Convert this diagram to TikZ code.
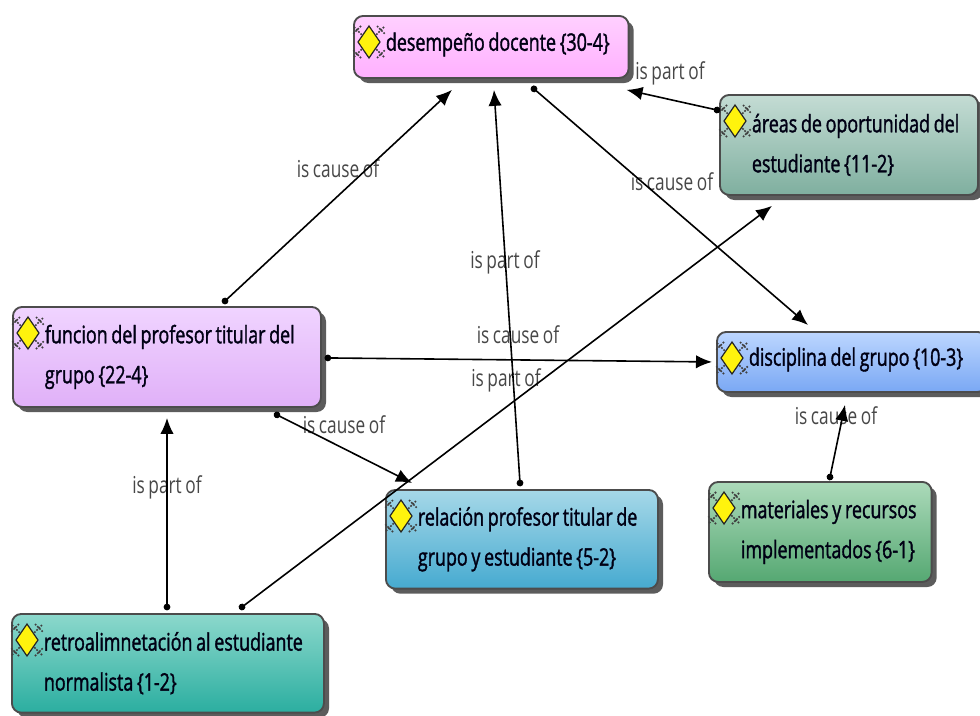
\documentclass[tikz,border=0pt]{standalone}
\usepackage{fontspec}
\setmainfont[FakeStretch=0.74,WordSpace=0.8]{Open Sans}
\newfontfamily\codefont[FakeStretch=0.74,WordSpace=0.8,FakeBold=1.4]{Open Sans}
\usetikzlibrary{arrows.meta,calc,shadows}

\definecolor{desempenotop}{HTML}{FFD0FF}
\definecolor{desempenobot}{HTML}{FFB0FF}
\definecolor{funciontop}{HTML}{F0D4FF}
\definecolor{funcionbot}{HTML}{E0B0F8}
\definecolor{areastop}{HTML}{C4DCD4}
\definecolor{areasbot}{HTML}{7FAF9F}
\definecolor{disciplinatop}{HTML}{BCD6FF}
\definecolor{disciplinabot}{HTML}{7AA8F4}
\definecolor{materialestop}{HTML}{ACDABA}
\definecolor{materialesbot}{HTML}{55A872}
\definecolor{relaciontop}{HTML}{A6D8E8}
\definecolor{relacionbot}{HTML}{46AAD0}
\definecolor{retrotop}{HTML}{8CD8CC}
\definecolor{retrobot}{HTML}{2BAEA0}

\newcommand{\ind}{\hspace*{24pt}}
\newcommand{\low}{\rule[-8pt]{0pt}{1pt}}

\tikzset{
	every picture/.style={line width=0.75pt},
	conceptbox/.style={draw=black!70,line width=1.4pt,rounded corners=7pt,anchor=north west,
		inner xsep=0pt,inner ysep=0pt,align=flush left,text=black!92!blue,
		font=\codefont\fontsize{18.1}{30}\selectfont,
		drop shadow={shadow xshift=3.8pt,shadow yshift=-3.8pt,fill=black!80,opacity=0.8}},
	linklabel/.style={text=black!72,inner sep=0pt,font=\fontsize{17.5}{20}\selectfont},
	link/.style={line width=1.2pt,black,{Circle[length=5pt]}-{Latex[length=12pt,width=10pt]},shorten <=-2.5pt},
	codeicon/.pic={
		\draw [black!75,line width=1.3pt,densely dotted] (-15,-15) -- (-4,-4) (15,-15) -- (4,-4) (-15,15) -- (-4,4) (15,15) -- (4,4) (-8,-16) -- (-16,-8) (8,-16) -- (16,-8) (-8,16) -- (-16,8) (8,16) -- (16,8);
		\draw [black!85,fill=yellow!95!white,line width=0.9pt] (0,-16) -- (11,0) -- (0,16) -- (-11,0) -- cycle;
	}
}

\begin{document}
\begin{tikzpicture}[x=0.75pt,y=0.75pt,yscale=-1,xscale=1]
		\useasboundingbox (0,0) rectangle (980,715);
		
		% Concept boxes
		\node [conceptbox,top color=desempenotop,bottom color=desempenobot,text width=206pt,minimum height=46.5pt] (desempeno) at (353,15) {\ind desempeño docente \{30-4\}\low};
		\node [conceptbox,top color=areastop,bottom color=areasbot,text width=193.5pt,minimum height=75pt] (areas) at (719,94) {\ind áreas de oportunidad del\\\ind estudiante \{11-2\}};
		\node [conceptbox,top color=funciontop,bottom color=funcionbot,text width=231pt,minimum height=75pt] (funcion) at (12,306) {\ind funcion del profesor titular del\\\ind grupo \{22-4\}};
		\node [conceptbox,top color=disciplinatop,bottom color=disciplinabot,text width=202.5pt,minimum height=45pt] (disciplina) at (716,331) {\ind disciplina del grupo \{10-3\}\low};
		\node [conceptbox,top color=materialestop,bottom color=materialesbot,text width=167pt,minimum height=75pt] (materiales) at (708,481) {\ind materiales y recursos\\\ind implementados \{6-1\}};
		\node [conceptbox,top color=relaciontop,bottom color=relacionbot,text width=204pt,minimum height=74pt] (relacion) at (385,489) {\ind relación profesor titular de\\\ind grupo y estudiante \{5-2\}};
		\node [conceptbox,top color=retrotop,bottom color=retrobot,text width=234pt,minimum height=74pt] (retro) at (11,613) {\ind retroalimnetación al estudiante\\\ind normalista \{1-2\}};
		
		% Icons
		\foreach \boxname in {desempeno,areas,funcion,disciplina,materiales,relacion,retro}
		\pic at ($(\boxname.north west)+(16,27)$) {codeicon};
		
		% Text Node
		\node [linklabel] (causeA) at (338,169) {is cause of};
		\node [linklabel] (partA) at (670,73) {is part of};
		\node [linklabel] (causeB) at (672,182) {is cause of};
		\node [linklabel] (partB) at (505,262) {is part of};
		\node [linklabel] (causeC) at (518,335) {is cause of};
		\node [linklabel] (partC) at (506,380) {is part of};
		\node [linklabel] (causeD) at (344,425) {is cause of};
		\node [linklabel] (causeE) at (836,416) {is cause of};
		\node [linklabel] (partD) at (167,487) {is part of};
		
		% Connectors
		\draw [link] ($(funcion.north west)+(213,-5)$) -- ($(desempeno.south west)+(99,11)$);
		\draw [link] ($(relacion.north west)+(135,-6)$) -- ($(desempeno.south west)+(141,11)$);
		\draw [link] ($(desempeno.south west)+(181,10)$) -- ($(disciplina.north west)+(92,-6)$);
		\draw [link] ($(areas.north west)+(-2,16)$) -- ($(desempeno.south east)+(-3,11)$);
		\draw [link] ($(funcion.east)+(6,1)$) -- ($(disciplina.west)+(-4,0)$);
		\draw [link] ($(funcion.south west)+(265,7)$) -- ($(relacion.north west)+(27,-6)$);
		\draw [link] ($(retro.north west)+(231,-6)$) -- ($(areas.south west)+(53,10)$);
		\draw [link] ($(retro.north west)+(156,-6)$) -- ($(funcion.south west)+(155,10)$);
		\draw [link] ($(materiales.north west)+(122,-4)$) -- ($(disciplina.south west)+(129,12)$);
		
\end{tikzpicture}
\end{document}
